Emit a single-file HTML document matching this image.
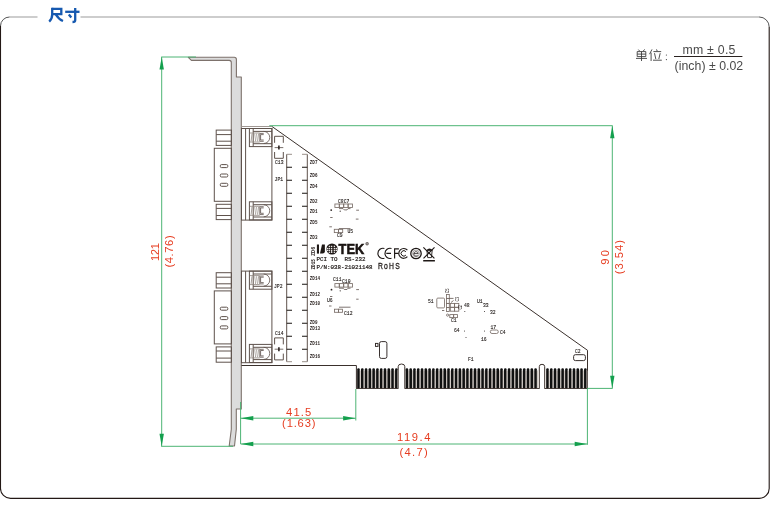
<!DOCTYPE html>
<html><head><meta charset="utf-8"><title>尺寸</title>
<style>
html,body{margin:0;padding:0;background:#fff;width:770px;height:507px;overflow:hidden;}
svg{display:block;font-family:"Liberation Sans",sans-serif;will-change:transform;}
</style></head><body>
<svg width="770" height="507" viewBox="0 0 770 507"><path d="M9.5,17 H37.5 M80.5,17 H759.5" stroke="#9c9c9c" stroke-width="1.1" fill="none"/>
<path d="M0.5,26 V488.4 A10,10 0 0 0 10.5,498.4 H759.2 A10,10 0 0 0 769.2,488.4 V27" stroke="#231815" stroke-width="1.1" fill="none"/>
<path d="M9.5,17 A9,9 0 0 0 0.5,26 M769.2,27 A10,10 0 0 0 759.2,17" stroke="#555" stroke-width="1" fill="none"/>
<g stroke="#1659b0" stroke-width="2.3" fill="none" stroke-linecap="butt" stroke-linejoin="miter"><path d="M52.2,8.9 H61.3 V14.1 H52.2"/><path d="M52.2,7.8 V14.5 C52.2,17.5 51.2,19.8 49.2,21.6"/><path d="M55.8,14.3 C57.6,17.4 59.8,19.6 63,21"/><path d="M65.2,11.8 H79.5"/><path d="M75.2,7.9 V20.2 C75.2,21.6 74.3,22 72.5,22"/><path d="M68.8,14.6 L71.3,17.6"/></g>
<path d="M188.3,57.3 H234.3 Q236.4,57.3 236.4,59.4 V77 H241.3 V409 H236.3 V429.3 L234.5,446 H229.2 L231.3,429.3 V62.5 Q231.3,60.4 229.2,60.4 H191.4 Z" fill="#dcdcdc" stroke="#7d726c" stroke-width="1.1" stroke-linejoin="round"/>
<g fill="none" stroke="#5e524c" stroke-width="1"><rect x="216.2" y="130.1" width="15.2" height="15.3" /><path d="M216.2,134.6 H231.4 M216.2,141.2 H231.4"/><rect x="214.3" y="148.3" width="17.1" height="53" /><rect x="220.3" y="164.6" width="7.5" height="3" rx="1.2"/><rect x="220.3" y="174" width="7.5" height="3" rx="1.2"/><rect x="220.3" y="183.3" width="7.5" height="3" rx="1.2"/><rect x="216.2" y="204.3" width="15.2" height="15.3" /><path d="M216.2,208.4 H231.4 M216.2,215.5 H231.4"/><rect x="241.5" y="128.5" width="30.4" height="91.6" /><path d="M245.6,128.5 V220.1"/><rect x="249.4" y="128.5" width="22.5" height="18.1"/><path d="M253.2,131.4 H271.9 M253.2,143.7 H271.9 M253.2,128.5 V146.6"/><path d="M250,133 H259.8 M250,142 H259.8" stroke="#8a807a" stroke-width="0.8"/><path d="M252,133.7 l-0.9,7.6 M254.2,133.7 l-0.9,7.6 M256.4,133.7 l-0.9,7.6 M258.5,133.7 l-0.9,7.6" stroke="#8a807a" stroke-width="0.75"/><path d="M263.7,133.4 H259.8 V141.3 H263.7 M263.7,134.6 H260.6 V140 H263.7 M263.7,131.4 A6,6 0 0 1 263.7,143.5" stroke-width="0.8"/><rect x="249.4" y="201.8" width="22.5" height="18.1"/><path d="M253.2,204.7 H271.9 M253.2,217 H271.9 M253.2,201.8 V219.9"/><path d="M250,206.3 H259.8 M250,215.3 H259.8" stroke="#8a807a" stroke-width="0.8"/><path d="M252,207 l-0.9,7.6 M254.2,207 l-0.9,7.6 M256.4,207 l-0.9,7.6 M258.5,207 l-0.9,7.6" stroke="#8a807a" stroke-width="0.75"/><path d="M263.7,206.7 H259.8 V214.6 H263.7 M263.7,207.9 H260.6 V213.3 H263.7 M263.7,204.7 A6,6 0 0 1 263.7,216.8" stroke-width="0.8"/></g>
<g fill="none" stroke="#5e524c" stroke-width="1"><rect x="216.2" y="272.7" width="15.2" height="15.3" /><path d="M216.2,277.2 H231.4 M216.2,283.8 H231.4"/><rect x="214.3" y="290.9" width="17.1" height="53" /><rect x="220.3" y="307.2" width="7.5" height="3" rx="1.2"/><rect x="220.3" y="316.6" width="7.5" height="3" rx="1.2"/><rect x="220.3" y="325.9" width="7.5" height="3" rx="1.2"/><rect x="216.2" y="346.9" width="15.2" height="15.3" /><path d="M216.2,351 H231.4 M216.2,358.1 H231.4"/><rect x="241.5" y="271.1" width="30.4" height="91.6" /><path d="M245.6,271.1 V362.7"/><rect x="249.4" y="271.1" width="22.5" height="18.1"/><path d="M253.2,274 H271.9 M253.2,286.3 H271.9 M253.2,271.1 V289.2"/><path d="M250,275.6 H259.8 M250,284.6 H259.8" stroke="#8a807a" stroke-width="0.8"/><path d="M252,276.3 l-0.9,7.6 M254.2,276.3 l-0.9,7.6 M256.4,276.3 l-0.9,7.6 M258.5,276.3 l-0.9,7.6" stroke="#8a807a" stroke-width="0.75"/><path d="M263.7,276 H259.8 V283.9 H263.7 M263.7,277.2 H260.6 V282.6 H263.7 M263.7,274 A6,6 0 0 1 263.7,286.1" stroke-width="0.8"/><rect x="249.4" y="344.4" width="22.5" height="18.1"/><path d="M253.2,347.3 H271.9 M253.2,359.6 H271.9 M253.2,344.4 V362.5"/><path d="M250,348.9 H259.8 M250,357.9 H259.8" stroke="#8a807a" stroke-width="0.8"/><path d="M252,349.6 l-0.9,7.6 M254.2,349.6 l-0.9,7.6 M256.4,349.6 l-0.9,7.6 M258.5,349.6 l-0.9,7.6" stroke="#8a807a" stroke-width="0.75"/><path d="M263.7,349.3 H259.8 V357.2 H263.7 M263.7,350.5 H260.6 V355.9 H263.7 M263.7,347.3 A6,6 0 0 1 263.7,359.4" stroke-width="0.8"/></g>
<path d="M241.5,126.5 H272" stroke="#a09894" stroke-width="1"/>
<path d="M272,126.5 L587.5,350.3 V388.5 H544.7 V366.6 Q544.7,364.3 542,364.3 Q539.3,364.3 539.3,366.6 V388.5 H404.8 V366.6 Q404.8,364 401.5,364 Q398.2,364 398.2,366.6 V388.5 H356.4 V365.5 H241.5" fill="none" stroke="#3a302c" stroke-width="1"/>
<g fill="#e2dcd8"><rect x="357" y="371" width="40.8" height="17.5"/><rect x="405.3" y="371" width="133.6" height="17.5"/><rect x="545.2" y="371" width="42" height="17.5"/></g>
<g fill="#111"><rect x="357.2" y="368.3" width="2.6" height="20.2" rx="1.2"/><rect x="359.8" y="370" width="0.5" height="18.5" fill="#b0a8a2"/><rect x="360.99" y="368.3" width="2.6" height="20.2" rx="1.2"/><rect x="363.59" y="370" width="0.5" height="18.5" fill="#b0a8a2"/><rect x="364.77" y="368.3" width="2.6" height="20.2" rx="1.2"/><rect x="367.37" y="370" width="0.5" height="18.5" fill="#b0a8a2"/><rect x="368.56" y="368.3" width="2.6" height="20.2" rx="1.2"/><rect x="371.16" y="370" width="0.5" height="18.5" fill="#b0a8a2"/><rect x="372.34" y="368.3" width="2.6" height="20.2" rx="1.2"/><rect x="374.94" y="370" width="0.5" height="18.5" fill="#b0a8a2"/><rect x="376.12" y="368.3" width="2.6" height="20.2" rx="1.2"/><rect x="378.73" y="370" width="0.5" height="18.5" fill="#b0a8a2"/><rect x="379.91" y="368.3" width="2.6" height="20.2" rx="1.2"/><rect x="382.51" y="370" width="0.5" height="18.5" fill="#b0a8a2"/><rect x="383.69" y="368.3" width="2.6" height="20.2" rx="1.2"/><rect x="386.3" y="370" width="0.5" height="18.5" fill="#b0a8a2"/><rect x="387.48" y="368.3" width="2.6" height="20.2" rx="1.2"/><rect x="390.08" y="370" width="0.5" height="18.5" fill="#b0a8a2"/><rect x="391.26" y="368.3" width="2.6" height="20.2" rx="1.2"/><rect x="393.87" y="370" width="0.5" height="18.5" fill="#b0a8a2"/><rect x="395.05" y="368.3" width="2.6" height="20.2" rx="1.2"/><rect x="397.65" y="370" width="0.5" height="18.5" fill="#b0a8a2"/><rect x="405.6" y="368.3" width="2.6" height="20.2" rx="1.2"/><rect x="408.2" y="370" width="0.5" height="18.5" fill="#b0a8a2"/><rect x="409.38" y="368.3" width="2.6" height="20.2" rx="1.2"/><rect x="411.99" y="370" width="0.5" height="18.5" fill="#b0a8a2"/><rect x="413.17" y="368.3" width="2.6" height="20.2" rx="1.2"/><rect x="415.77" y="370" width="0.5" height="18.5" fill="#b0a8a2"/><rect x="416.95" y="368.3" width="2.6" height="20.2" rx="1.2"/><rect x="419.56" y="370" width="0.5" height="18.5" fill="#b0a8a2"/><rect x="420.74" y="368.3" width="2.6" height="20.2" rx="1.2"/><rect x="423.34" y="370" width="0.5" height="18.5" fill="#b0a8a2"/><rect x="424.52" y="368.3" width="2.6" height="20.2" rx="1.2"/><rect x="427.12" y="370" width="0.5" height="18.5" fill="#b0a8a2"/><rect x="428.31" y="368.3" width="2.6" height="20.2" rx="1.2"/><rect x="430.91" y="370" width="0.5" height="18.5" fill="#b0a8a2"/><rect x="432.09" y="368.3" width="2.6" height="20.2" rx="1.2"/><rect x="434.69" y="370" width="0.5" height="18.5" fill="#b0a8a2"/><rect x="435.88" y="368.3" width="2.6" height="20.2" rx="1.2"/><rect x="438.48" y="370" width="0.5" height="18.5" fill="#b0a8a2"/><rect x="439.66" y="368.3" width="2.6" height="20.2" rx="1.2"/><rect x="442.26" y="370" width="0.5" height="18.5" fill="#b0a8a2"/><rect x="443.45" y="368.3" width="2.6" height="20.2" rx="1.2"/><rect x="446.05" y="370" width="0.5" height="18.5" fill="#b0a8a2"/><rect x="447.23" y="368.3" width="2.6" height="20.2" rx="1.2"/><rect x="449.83" y="370" width="0.5" height="18.5" fill="#b0a8a2"/><rect x="451.02" y="368.3" width="2.6" height="20.2" rx="1.2"/><rect x="453.62" y="370" width="0.5" height="18.5" fill="#b0a8a2"/><rect x="454.8" y="368.3" width="2.6" height="20.2" rx="1.2"/><rect x="457.4" y="370" width="0.5" height="18.5" fill="#b0a8a2"/><rect x="458.59" y="368.3" width="2.6" height="20.2" rx="1.2"/><rect x="461.19" y="370" width="0.5" height="18.5" fill="#b0a8a2"/><rect x="462.37" y="368.3" width="2.6" height="20.2" rx="1.2"/><rect x="464.97" y="370" width="0.5" height="18.5" fill="#b0a8a2"/><rect x="466.16" y="368.3" width="2.6" height="20.2" rx="1.2"/><rect x="468.76" y="370" width="0.5" height="18.5" fill="#b0a8a2"/><rect x="469.94" y="368.3" width="2.6" height="20.2" rx="1.2"/><rect x="472.55" y="370" width="0.5" height="18.5" fill="#b0a8a2"/><rect x="473.73" y="368.3" width="2.6" height="20.2" rx="1.2"/><rect x="476.33" y="370" width="0.5" height="18.5" fill="#b0a8a2"/><rect x="477.51" y="368.3" width="2.6" height="20.2" rx="1.2"/><rect x="480.12" y="370" width="0.5" height="18.5" fill="#b0a8a2"/><rect x="481.3" y="368.3" width="2.6" height="20.2" rx="1.2"/><rect x="483.9" y="370" width="0.5" height="18.5" fill="#b0a8a2"/><rect x="485.08" y="368.3" width="2.6" height="20.2" rx="1.2"/><rect x="487.69" y="370" width="0.5" height="18.5" fill="#b0a8a2"/><rect x="488.87" y="368.3" width="2.6" height="20.2" rx="1.2"/><rect x="491.47" y="370" width="0.5" height="18.5" fill="#b0a8a2"/><rect x="492.65" y="368.3" width="2.6" height="20.2" rx="1.2"/><rect x="495.25" y="370" width="0.5" height="18.5" fill="#b0a8a2"/><rect x="496.44" y="368.3" width="2.6" height="20.2" rx="1.2"/><rect x="499.04" y="370" width="0.5" height="18.5" fill="#b0a8a2"/><rect x="500.22" y="368.3" width="2.6" height="20.2" rx="1.2"/><rect x="502.82" y="370" width="0.5" height="18.5" fill="#b0a8a2"/><rect x="504.01" y="368.3" width="2.6" height="20.2" rx="1.2"/><rect x="506.61" y="370" width="0.5" height="18.5" fill="#b0a8a2"/><rect x="507.79" y="368.3" width="2.6" height="20.2" rx="1.2"/><rect x="510.39" y="370" width="0.5" height="18.5" fill="#b0a8a2"/><rect x="511.58" y="368.3" width="2.6" height="20.2" rx="1.2"/><rect x="514.18" y="370" width="0.5" height="18.5" fill="#b0a8a2"/><rect x="515.37" y="368.3" width="2.6" height="20.2" rx="1.2"/><rect x="517.96" y="370" width="0.5" height="18.5" fill="#b0a8a2"/><rect x="519.15" y="368.3" width="2.6" height="20.2" rx="1.2"/><rect x="521.75" y="370" width="0.5" height="18.5" fill="#b0a8a2"/><rect x="522.94" y="368.3" width="2.6" height="20.2" rx="1.2"/><rect x="525.53" y="370" width="0.5" height="18.5" fill="#b0a8a2"/><rect x="526.72" y="368.3" width="2.6" height="20.2" rx="1.2"/><rect x="529.32" y="370" width="0.5" height="18.5" fill="#b0a8a2"/><rect x="530.5" y="368.3" width="2.6" height="20.2" rx="1.2"/><rect x="533.1" y="370" width="0.5" height="18.5" fill="#b0a8a2"/><rect x="534.29" y="368.3" width="2.6" height="20.2" rx="1.2"/><rect x="536.89" y="370" width="0.5" height="18.5" fill="#b0a8a2"/><rect x="546.2" y="368.3" width="2.6" height="20.2" rx="1.2"/><rect x="548.8" y="370" width="0.5" height="18.5" fill="#b0a8a2"/><rect x="549.99" y="368.3" width="2.6" height="20.2" rx="1.2"/><rect x="552.58" y="370" width="0.5" height="18.5" fill="#b0a8a2"/><rect x="553.77" y="368.3" width="2.6" height="20.2" rx="1.2"/><rect x="556.37" y="370" width="0.5" height="18.5" fill="#b0a8a2"/><rect x="557.56" y="368.3" width="2.6" height="20.2" rx="1.2"/><rect x="560.15" y="370" width="0.5" height="18.5" fill="#b0a8a2"/><rect x="561.34" y="368.3" width="2.6" height="20.2" rx="1.2"/><rect x="563.94" y="370" width="0.5" height="18.5" fill="#b0a8a2"/><rect x="565.12" y="368.3" width="2.6" height="20.2" rx="1.2"/><rect x="567.72" y="370" width="0.5" height="18.5" fill="#b0a8a2"/><rect x="568.91" y="368.3" width="2.6" height="20.2" rx="1.2"/><rect x="571.51" y="370" width="0.5" height="18.5" fill="#b0a8a2"/><rect x="572.7" y="368.3" width="2.6" height="20.2" rx="1.2"/><rect x="575.29" y="370" width="0.5" height="18.5" fill="#b0a8a2"/><rect x="576.48" y="368.3" width="2.6" height="20.2" rx="1.2"/><rect x="579.08" y="370" width="0.5" height="18.5" fill="#b0a8a2"/><rect x="580.27" y="368.3" width="2.6" height="20.2" rx="1.2"/><rect x="582.87" y="370" width="0.5" height="18.5" fill="#b0a8a2"/><rect x="584.05" y="368.3" width="2.6" height="20.2" rx="1.2"/><rect x="586.65" y="370" width="0.5" height="18.5" fill="#b0a8a2"/></g>
<path d="M356.4,388.5 H398.2 M404.8,388.5 H539.3 M544.7,388.5 H587.5" stroke="#3a302c" stroke-width="0.8"/>
<path d="M286.7,154.3 V361.7 M307.3,154.3 V361.7" stroke="#5e524c" stroke-width="1"/><path d="M286.7,154.3 H292 M302,154.3 H307.3 M286.7,361.7 H292 M302,361.7 H307.3" stroke="#9a908a" stroke-width="1"/><path d="M286.7,167.2 H292 M302,167.2 H307.3 M286.7,180.2 H292 M302,180.2 H307.3 M286.7,193.2 H292 M302,193.2 H307.3 M286.7,206.2 H292 M302,206.2 H307.3 M286.7,219.2 H292 M302,219.2 H307.3 M286.7,232.2 H292 M302,232.2 H307.3 M286.7,245.2 H292 M302,245.2 H307.3 M286.7,258.2 H292 M302,258.2 H307.3 M286.7,271.2 H292 M302,271.2 H307.3 M286.7,284.2 H292 M302,284.2 H307.3 M286.7,297.2 H292 M302,297.2 H307.3 M286.7,310.2 H292 M302,310.2 H307.3 M286.7,323.2 H292 M302,323.2 H307.3 M286.7,336.2 H292 M302,336.2 H307.3 M286.7,349.2 H292 M302,349.2 H307.3" stroke="#1a1412" stroke-width="1.1"/>
<g fill="none" stroke="#5e524c" stroke-width="1"><path d="M274.6,142.8 V136.3 H283.3 V142.8"/><path d="M274.6,152 V158.3 H283.3 V152"/><path d="M274.6,147.6 H283.3" stroke="#6a605a" stroke-width="0.9"/><path d="M278.9,145.6 V149.6" stroke="#2a2220" stroke-width="1.6"/></g>
<g fill="none" stroke="#5e524c" stroke-width="1"><path d="M274.6,344.4 V337.9 H283.3 V344.4"/><path d="M274.6,353.6 V359.9 H283.3 V353.6"/><path d="M274.6,349.2 H283.3" stroke="#6a605a" stroke-width="0.9"/><path d="M278.9,347.2 V351.2" stroke="#2a2220" stroke-width="1.6"/></g>
<text transform="translate(309.8,163.9) scale(0.82,1)" font-family="Liberation Mono" font-size="5.2" font-weight="bold" fill="#2a2220">ZD7</text><text transform="translate(309.8,177) scale(0.82,1)" font-family="Liberation Mono" font-size="5.2" font-weight="bold" fill="#2a2220">ZD6</text><text transform="translate(309.8,188.1) scale(0.82,1)" font-family="Liberation Mono" font-size="5.2" font-weight="bold" fill="#2a2220">ZD4</text><text transform="translate(309.8,202.7) scale(0.82,1)" font-family="Liberation Mono" font-size="5.2" font-weight="bold" fill="#2a2220">ZD2</text><text transform="translate(309.8,213.1) scale(0.82,1)" font-family="Liberation Mono" font-size="5.2" font-weight="bold" fill="#2a2220">ZD1</text><text transform="translate(309.8,224.3) scale(0.82,1)" font-family="Liberation Mono" font-size="5.2" font-weight="bold" fill="#2a2220">ZD5</text><text transform="translate(309.8,239.1) scale(0.82,1)" font-family="Liberation Mono" font-size="5.2" font-weight="bold" fill="#2a2220">ZD3</text><text transform="translate(309.8,280.3) scale(0.82,1)" font-family="Liberation Mono" font-size="5.2" font-weight="bold" fill="#2a2220">ZD14</text><text transform="translate(309.8,296.1) scale(0.82,1)" font-family="Liberation Mono" font-size="5.2" font-weight="bold" fill="#2a2220">ZD12</text><text transform="translate(309.8,304.8) scale(0.82,1)" font-family="Liberation Mono" font-size="5.2" font-weight="bold" fill="#2a2220">ZD10</text><text transform="translate(309.8,324) scale(0.82,1)" font-family="Liberation Mono" font-size="5.2" font-weight="bold" fill="#2a2220">ZD9</text><text transform="translate(309.8,330) scale(0.82,1)" font-family="Liberation Mono" font-size="5.2" font-weight="bold" fill="#2a2220">ZD13</text><text transform="translate(309.8,344.7) scale(0.82,1)" font-family="Liberation Mono" font-size="5.2" font-weight="bold" fill="#2a2220">ZD11</text><text transform="translate(309.8,357.9) scale(0.82,1)" font-family="Liberation Mono" font-size="5.2" font-weight="bold" fill="#2a2220">ZD16</text><text transform="translate(315,256.1) rotate(-90)" textLength="9.4" lengthAdjust="spacingAndGlyphs" font-family="Liberation Mono" font-size="5.2" font-weight="bold" fill="#2a2220">ZD6</text><text transform="translate(315,269.5) rotate(-90)" textLength="10.3" lengthAdjust="spacingAndGlyphs" font-family="Liberation Mono" font-size="5.2" font-weight="bold" fill="#2a2220">ZD15</text><text transform="translate(275,163.8) scale(0.85,1)" font-family="Liberation Mono" font-size="5.6" fill="#1e1816" stroke="#1e1816" stroke-width="0.12">C13</text><text transform="translate(274.6,181) scale(0.85,1)" font-family="Liberation Mono" font-size="5.6" fill="#1e1816" stroke="#1e1816" stroke-width="0.12">JP1</text><text transform="translate(274,288.3) scale(0.85,1)" font-family="Liberation Mono" font-size="5.6" fill="#1e1816" stroke="#1e1816" stroke-width="0.12">JP2</text><text transform="translate(275,334.8) scale(0.85,1)" font-family="Liberation Mono" font-size="5.6" fill="#1e1816" stroke="#1e1816" stroke-width="0.12">C14</text><text transform="translate(338,202.6) scale(0.85,1)" font-family="Liberation Mono" font-size="5.6" fill="#1e1816" stroke="#1e1816" stroke-width="0.12">C8C7</text><text transform="translate(333,281) scale(0.85,1)" font-family="Liberation Mono" font-size="5.6" fill="#1e1816" stroke="#1e1816" stroke-width="0.12">C11</text><text transform="translate(342,283) scale(0.85,1)" font-family="Liberation Mono" font-size="5.6" fill="#1e1816" stroke="#1e1816" stroke-width="0.12">C10</text><text transform="translate(327,301.5) scale(0.85,1)" font-family="Liberation Mono" font-size="5.6" fill="#1e1816" stroke="#1e1816" stroke-width="0.12">U6</text><text transform="translate(344,315) scale(0.85,1)" font-family="Liberation Mono" font-size="5.6" fill="#1e1816" stroke="#1e1816" stroke-width="0.12">C12</text><text transform="translate(337,237.2) scale(0.85,1)" font-family="Liberation Mono" font-size="5.6" fill="#1e1816" stroke="#1e1816" stroke-width="0.12">C9</text><text transform="translate(347.5,233.3) scale(0.85,1)" font-family="Liberation Mono" font-size="5.6" fill="#1e1816" stroke="#1e1816" stroke-width="0.12">U5</text><text transform="translate(428,303) scale(0.85,1)" font-family="Liberation Mono" font-size="5.6" fill="#1e1816" stroke="#1e1816" stroke-width="0.12">51</text><text transform="translate(464,307) scale(0.85,1)" font-family="Liberation Mono" font-size="5.6" fill="#1e1816" stroke="#1e1816" stroke-width="0.12">48</text><text transform="translate(477,303.3) scale(0.85,1)" font-family="Liberation Mono" font-size="5.6" fill="#1e1816" stroke="#1e1816" stroke-width="0.12">U1</text><text transform="translate(483,306.8) scale(0.85,1)" font-family="Liberation Mono" font-size="5.6" fill="#1e1816" stroke="#1e1816" stroke-width="0.12">33</text><text transform="translate(490,313.8) scale(0.85,1)" font-family="Liberation Mono" font-size="5.6" fill="#1e1816" stroke="#1e1816" stroke-width="0.12">32</text><text transform="translate(451,321.8) scale(0.85,1)" font-family="Liberation Mono" font-size="5.6" fill="#1e1816" stroke="#1e1816" stroke-width="0.12">C1</text><text transform="translate(454,332) scale(0.85,1)" font-family="Liberation Mono" font-size="5.6" fill="#1e1816" stroke="#1e1816" stroke-width="0.12">64</text><text transform="translate(481,340.5) scale(0.85,1)" font-family="Liberation Mono" font-size="5.6" fill="#1e1816" stroke="#1e1816" stroke-width="0.12">16</text><text transform="translate(490.5,328.8) scale(0.85,1)" font-family="Liberation Mono" font-size="5.6" fill="#1e1816" stroke="#1e1816" stroke-width="0.12">17</text><text transform="translate(500,334) scale(0.85,1)" font-family="Liberation Mono" font-size="5.6" fill="#1e1816" stroke="#1e1816" stroke-width="0.12">C4</text><text transform="translate(468,361) scale(0.85,1)" font-family="Liberation Mono" font-size="5.6" fill="#1e1816" stroke="#1e1816" stroke-width="0.12">F1</text><text transform="translate(575,352.6) scale(0.85,1)" font-family="Liberation Mono" font-size="5.6" fill="#1e1816" stroke="#1e1816" stroke-width="0.12">C2</text>
<g fill="none" stroke="#7a6e68" stroke-width="0.85"><rect x="334.9" y="204" width="4.4" height="3.5" rx="0"/><rect x="334.9" y="283.6" width="4.4" height="3.5" rx="0"/><rect x="339.3" y="204" width="4.4" height="3.5" rx="0"/><rect x="339.3" y="283.6" width="4.4" height="3.5" rx="0"/><rect x="343.7" y="204" width="4.4" height="3.5" rx="0"/><rect x="343.7" y="283.6" width="4.4" height="3.5" rx="0"/><rect x="348.1" y="204" width="4.4" height="3.5" rx="0"/><rect x="348.1" y="283.6" width="4.4" height="3.5" rx="0"/><rect x="334.3" y="229.3" width="4.2" height="3.3" rx="0"/><rect x="334.5" y="309.2" width="4" height="3.1" rx="0"/><rect x="449.8" y="314.6" width="3.85" height="3" rx="0"/><rect x="338.5" y="229.3" width="4.2" height="3.3" rx="0"/><rect x="338.5" y="309.2" width="4" height="3.1" rx="0"/><rect x="453.65" y="314.6" width="3.85" height="3" rx="0"/><rect x="436.8" y="298.1" width="7.7" height="9.8" rx="1"/><rect x="446.5" y="294.5" width="2.8" height="3.9" rx="0"/><rect x="446.5" y="298.4" width="2.8" height="5" rx="0"/><rect x="446.5" y="303.4" width="2.8" height="4.2" rx="0"/><rect x="446.5" y="307.6" width="2.8" height="3.9" rx="0"/><rect x="450.3" y="303.4" width="4.3" height="3.9" rx="0"/><rect x="454.6" y="303.4" width="4.2" height="3.9" rx="0"/><rect x="450.3" y="307.3" width="4.3" height="3.9" rx="0"/><rect x="454.6" y="307.3" width="4.2" height="3.9" rx="0"/><rect x="490.3" y="330" width="8" height="3.5" rx="1.7"/></g>
<g fill="none" stroke="#2e2624" stroke-width="0.95"><rect x="573.6" y="354.7" width="11.8" height="5.9" rx="1.8"/><rect x="379.5" y="341.6" width="7.4" height="16.8" rx="1.8"/><rect x="375.5" y="343.4" width="2.5" height="3" rx="0"/></g>
<path d="M339,288.2 H343 l1.3,1.3 H347 l1,-1.3 H350.5 M339,208.6 H343 l1.3,1.3 H347 l1,-1.3 H350.5" fill="none" stroke="#5e524c" stroke-width="0.8"/>
<g fill="#2a2220"><circle cx="340.2" cy="290.8" r="0.6"/><circle cx="340.2" cy="211.2" r="0.6"/></g>
<path d="M449.2,298.4 H453.5 M442,310.5 H444.3 M451,302.5 L453.5,300.5" stroke="#5e524c" stroke-width="0.8" fill="none"/>
<circle cx="447.6" cy="315.1" r="1.1" fill="none" stroke="#5e524c" stroke-width="0.7"/>
<g font-family="Liberation Mono" font-size="4.6" fill="#2a2220"><text transform="translate(449.4,293.2) rotate(-90) scale(0.85,1)">C5</text><text transform="translate(458.9,301.4) rotate(-90) scale(0.85,1)">C3</text><text transform="translate(462.2,309.6) rotate(-90) scale(0.85,1)">C2</text></g>
<path d="M339,228.6 H350.5 M339,307.2 H350.5 M356.2,210.2 H359 M330.2,217.5 H332.6 M355.8,219.1 H358.5 M329.3,226.8 H331.9 M356.2,289.6 H359 M330,296.5 H332.4 M356.2,299.2 H358.6 M329,306 H331.5" stroke="#5e524c" stroke-width="0.8"/>
<g fill="#2a2220"><circle cx="331.2" cy="210.1" r="0.9"/><circle cx="331.5" cy="289.7" r="0.9"/><circle cx="464.8" cy="311.5" r="0.5"/><circle cx="484.5" cy="311.5" r="0.5"/><circle cx="464.5" cy="331" r="0.5"/><circle cx="484.5" cy="331" r="0.5"/><circle cx="466" cy="337.5" r="0.5"/></g>
<g fill="#1e1816"><rect x="316.9" y="244.5" width="2.1" height="9.1"/><path d="M322,244.5 H324.9 V251.3 Q324.9,253.6 322.6,253.6 H320 Z"/><circle cx="332" cy="249" r="5.6"/></g>
<g fill="#e8e4e2"><rect x="326.9" y="247.85" width="1.4" height="1.3"/><rect x="326.9" y="249.75" width="1.4" height="1.3"/><rect x="328.7" y="245.75" width="1.4" height="1.3"/><rect x="328.7" y="247.85" width="1.4" height="1.3"/><rect x="328.7" y="249.75" width="1.4" height="1.3"/><rect x="328.7" y="251.65" width="1.4" height="1.3"/><rect x="330.9" y="245.75" width="1.4" height="1.3"/><rect x="330.9" y="247.85" width="1.4" height="1.3"/><rect x="330.9" y="249.75" width="1.4" height="1.3"/><rect x="330.9" y="251.65" width="1.4" height="1.3"/><rect x="333.7" y="245.75" width="1.4" height="1.3"/><rect x="333.7" y="247.85" width="1.4" height="1.3"/><rect x="333.7" y="249.75" width="1.4" height="1.3"/><rect x="333.7" y="251.65" width="1.4" height="1.3"/><rect x="335.6" y="247.85" width="1.4" height="1.3"/><rect x="335.6" y="249.75" width="1.4" height="1.3"/><rect x="331.2" y="250.3" width="0.9" height="2.6"/></g>
<text x="338.6" y="253.8" font-family="Liberation Sans" font-weight="bold" font-size="13.8" fill="#1a1412" stroke="#1a1412" stroke-width="0.55" transform="translate(338.6,0) scale(0.93,1) translate(-338.6,0)">TEK</text>
<circle cx="367.1" cy="243.7" r="1.7" fill="#6a6260"/><circle cx="367.1" cy="243.7" r="0.8" fill="#b0aaa8"/>
<text transform="translate(316.6,261.2) scale(0.975,1)" font-family="Liberation Mono" font-size="6" fill="#1e1816" stroke="#1e1816" stroke-width="0.2" style="white-space:pre">PCI TO  RS-232</text>
<text transform="translate(316.6,268.9) scale(0.975,1)" font-family="Liberation Mono" font-size="6" fill="#1e1816" stroke="#1e1816" stroke-width="0.2">P/N:038-21021148</text>
<g fill="none" stroke="#1e1816" stroke-width="1.15"><path d="M384.4,248.5 A5.1,5.1 0 1 0 384.4,258.3"/><path d="M391.5,248.5 A5.1,5.1 0 1 0 391.5,258.3 M386.3,253.4 H391"/><path d="M394.6,258.6 V248.8 H398.9 M394.6,253.4 H398.6"/><path d="M407.4,250.2 A4.9,4.9 0 1 0 407.4,256.6"/><path d="M405.9,251.7 A2.7,2.7 0 1 0 405.9,255.1" stroke-width="1"/><circle cx="416" cy="253.5" r="5.2" stroke-width="1.3"/><circle cx="416" cy="253.5" r="3.4" stroke-width="0.6" stroke="#6a6260"/><path d="M413.9,253.6 H418.2 A2.2,2.2 0 1 0 417.6,255.4" stroke-width="0.8"/><path d="M423.4,247.4 L434.4,258.4 M434.5,247.4 L423.5,258.4"/><path d="M426.9,250.3 H432.2 L431.4,257.6 H427.7 Z" stroke-width="0.9"/></g><path d="M426.3,250.4 Q429.5,246.6 432.8,250.4 Z" fill="#1e1816"/><rect x="423.2" y="260" width="11.7" height="1.5" fill="#1e1816"/>
<text transform="translate(378.0,268.9) scale(0.74,1)" font-family="Liberation Sans" font-size="9.2" fill="#1e1816" letter-spacing="1.6" stroke="#1e1816" stroke-width="0.3">RoHS</text>
<g stroke="#4db474" stroke-width="1" fill="none"><path d="M161.7,57 V446.3 M161.2,57 H196 M161.2,446.3 H233" /><path d="M269.3,125.7 H612.6 M612.3,125.7 V388.4 M587.4,388.4 H612.6" /><path d="M240.6,402 V444 M240.6,418.2 H355.8 M355.8,389 V420.5 M240.6,444 H587.4 M587.4,388.4 V444.8" /></g>
<path d="M161.7,57 L159.5,69.5 L163.9,69.5 Z" fill="#14a04e"/>
<path d="M161.7,446.3 L159.5,433.8 L163.9,433.8 Z" fill="#14a04e"/>
<path d="M612.3,125.7 L610.1,138.2 L614.5,138.2 Z" fill="#14a04e"/>
<path d="M612.3,388.3 L610.1,375.8 L614.5,375.8 Z" fill="#14a04e"/>
<path d="M240.8,418.2 L253.3,416 L253.3,420.4 Z" fill="#14a04e"/>
<path d="M355.6,418.2 L343.1,416 L343.1,420.4 Z" fill="#14a04e"/>
<path d="M240.8,444 L253.3,441.8 L253.3,446.2 Z" fill="#14a04e"/>
<path d="M587.2,444 L574.7,441.8 L574.7,446.2 Z" fill="#14a04e"/>
<g font-family="Liberation Sans" font-size="11.2" fill="#e63c20"><text x="286.1" y="415.5" textLength="25.2" lengthAdjust="spacing">41.5</text><text x="282.1" y="427.3" textLength="33.3" lengthAdjust="spacing">(1.63)</text><text x="397.1" y="440.9" textLength="33.3" lengthAdjust="spacing">119.4</text><text x="399.4" y="456.4" textLength="28.3" lengthAdjust="spacing">(4.7)</text><text transform="translate(159,261.1) rotate(-90)" textLength="18.1" lengthAdjust="spacing">121</text><text transform="translate(173.1,267.6) rotate(-90)" textLength="32.3" lengthAdjust="spacing">(4.76)</text><text transform="translate(609,264.7) rotate(-90)" textLength="14.6" lengthAdjust="spacing">90</text><text transform="translate(622.8,274.2) rotate(-90)" textLength="34.2" lengthAdjust="spacing">(3.54)</text></g>
<g fill="#4a4a4a" font-family="Liberation Sans" font-size="12.3"><text x="682.4" y="53.8" textLength="53" lengthAdjust="spacing">mm &#177; 0.5</text><text x="674.6" y="70" textLength="68.6" lengthAdjust="spacing">(inch) &#177; 0.02</text></g>
<path d="M674,56.5 H742.4" stroke="#2a2220" stroke-width="1"/>
<g fill="#3c3c3c"><circle cx="666.4" cy="55" r="0.6"/><circle cx="666.4" cy="59.6" r="0.6"/></g>
<g stroke="#3c3c3c" stroke-width="0.9" fill="none"><path d="M638.4,49.6 L639.6,51 M644.6,49.4 L643.3,51"/><path d="M637.2,51.6 H645.8 V56.6 H637.2 Z M637.2,54.1 H645.8 M641.5,51.6 V61"/><path d="M636,58.4 H647"/><path d="M652,49.4 L649.5,54.2 M651.1,52.6 V61"/><path d="M656.5,49.4 L657.2,51 M653.4,51.6 H661.2 M654.5,53.2 L655.8,59 M660.2,53.2 L658.8,59 M653,60.2 H661.8"/></g></svg>
</body></html>
